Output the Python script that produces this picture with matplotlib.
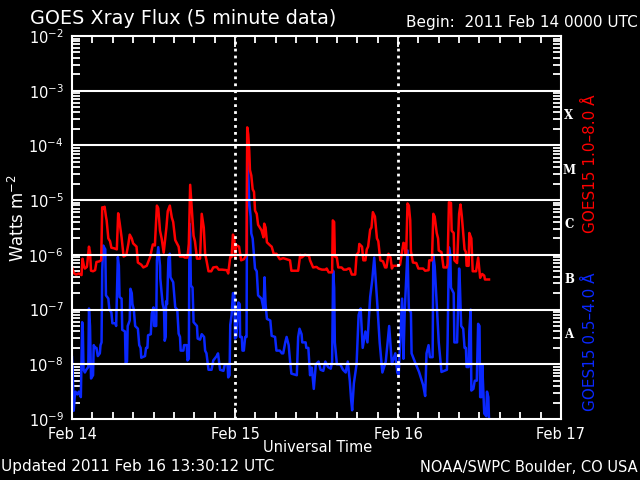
import matplotlib
matplotlib.use("Agg")
import matplotlib.pyplot as plt
import numpy as np
from matplotlib.ticker import FixedLocator, NullFormatter

# ---- data: hours since 2011 Feb 14 00:00 UTC, log10 flux (W m^-2) ----
long_t = [0.0, 0.25, 0.6, 1.0, 1.4, 1.55, 1.75, 1.9, 2.2, 2.5, 2.65, 2.8, 3.1, 3.4, 3.6, 4.0, 4.3,
          4.45, 4.6, 4.8, 5.0, 5.1, 5.35, 5.6, 5.8, 6.2, 6.6, 6.8, 7.0, 7.3, 7.6, 8.0, 8.3, 8.5,
          8.8, 9.0, 9.5, 9.7, 10.2, 10.5, 11.0, 11.5, 11.9, 12.2, 12.5, 12.7, 12.96, 13.2, 13.5,
          13.9, 14.1, 14.4, 14.7, 14.9, 15.2, 15.7, 15.9, 16.4, 16.6, 17.0, 17.2, 17.4, 17.6,
          17.9, 18.1, 18.4, 18.85, 19.1, 19.4, 19.6, 19.8, 20.1, 20.5, 20.8, 21.3, 21.6, 22.1,
          22.8, 23.0, 23.3, 23.5, 23.7, 23.9, 24.0, 24.2, 24.6, 24.9, 25.3, 25.5, 25.7, 25.8,
          25.95, 26.1, 26.2, 26.4, 26.6, 26.8, 26.95, 27.2, 27.4, 27.9, 28.2, 28.3, 28.5, 28.7,
          29.2, 29.4, 29.7, 30.1, 30.6, 31.1, 31.6, 32.1, 32.3, 33.3, 33.6, 33.8, 34.3, 34.9,
          35.05, 35.5, 36.0, 36.3, 36.8, 37.3, 37.5, 37.8, 38.3, 38.4, 38.6, 38.7, 39.0, 39.2,
          39.7, 40.0, 40.4, 40.7, 40.9, 41.2, 41.7, 41.9, 42.2, 42.3, 42.7, 42.9, 43.2, 43.4,
          43.6, 43.9, 44.1, 44.3, 44.6, 44.9, 45.1, 45.4, 45.8, 46.1, 46.3, 46.6, 46.9, 47.1,
          47.3, 48.0, 48.3, 48.8, 49.0, 49.1, 49.2, 49.4, 49.6, 49.8, 49.9, 50.2, 50.7, 51.0,
          51.7, 52.0, 52.5, 52.6, 53.0, 53.2, 53.4, 53.7, 53.9, 54.0, 54.4, 54.7, 55.2, 55.3,
          55.5, 55.8, 55.9, 56.2, 56.3, 56.7, 57.0, 57.2, 57.4, 57.6, 57.8, 58.0, 58.1, 58.4,
          58.5, 58.8, 59.0, 59.35, 59.5, 59.8, 60.1, 60.4, 60.7, 60.8, 61.4]
long_log = [-6.23, -6.33, -6.36, -6.34, -6.37, -6.07, -6.2, -6.25, -6.22, -5.85, -5.95, -6.29,
            -6.3, -6.28, -6.13, -6.12, -6.1, -5.13, -5.15, -5.12, -5.3, -5.37, -5.7, -5.75,
            -5.87, -5.88, -5.9, -5.24, -5.4, -5.68, -6.03, -6.0, -5.8, -5.63, -5.7, -5.79,
            -5.85, -6.14, -6.18, -6.23, -6.2, -6.04, -5.81, -5.83, -5.1, -5.15, -5.56, -5.7,
            -5.96, -5.5, -5.2, -5.1, -5.32, -5.4, -5.73, -5.85, -6.03, -6.03, -6.05, -6.05,
            -5.8, -4.72, -5.1, -5.65, -5.75, -6.07, -6.07, -5.25, -5.5, -5.98, -6.1, -6.3,
            -6.3, -6.23, -6.22, -6.27, -6.27, -6.28, -6.34, -6.04, -6.04, -5.63, -5.7, -6.04,
            -5.82, -5.85, -6.1, -6.08, -6.04, -6.0, -3.67, -3.8, -4.1, -4.45, -4.55, -4.8,
            -4.85, -5.19, -5.25, -5.45, -5.55, -5.68, -5.43, -5.5, -5.77, -5.83, -5.85, -5.98,
            -5.98, -6.08, -6.06, -6.08, -6.1, -6.29, -6.29, -6.0, -6.05, -6.0, -6.02, -6.1,
            -6.23, -6.22, -6.25, -6.27, -6.27, -6.25, -6.32, -6.32, -5.37, -5.4, -6.03, -6.05,
            -6.23, -6.23, -6.27, -6.27, -6.25, -6.25, -6.36, -6.36, -6.0, -5.95, -5.8, -5.85,
            -6.1, -6.1, -5.9, -5.85, -5.54, -5.5, -5.22, -5.3, -5.7, -5.75, -6.1, -6.12, -6.23,
            -6.23, -5.98, -6.05, -6.25, -6.2, -6.2, -6.18, -5.78, -5.8, -6.0, -6.0, -5.06,
            -5.1, -5.37, -5.93, -6.14, -6.15, -6.25, -6.25, -6.29, -6.28, -6.1, -6.1, -5.25,
            -5.3, -5.6, -5.7, -5.92, -5.95, -6.23, -6.23, -6.16, -5.04, -5.05, -5.56, -5.6,
            -6.1, -6.15, -5.25, -5.08, -5.3, -5.6, -5.9, -5.95, -6.2, -6.2, -5.6, -5.7, -6.3,
            -6.3, -6.3, -6.05, -6.42, -6.35, -6.38, -6.45, -6.45]

short_t = [0.0, 0.1, 0.25, 0.4, 0.5, 0.8, 1.0, 1.3, 1.5, 1.6, 1.7, 1.9, 2.1, 2.4, 2.5, 2.65, 2.8,
           3.1, 3.2, 3.4, 3.6, 3.8, 4.1, 4.2, 4.35, 4.45, 4.6, 4.9, 5.0, 5.35, 5.5, 5.8, 5.95,
           6.4, 6.5, 6.75, 6.9, 7.0, 7.3, 7.4, 7.8, 7.9, 8.1, 8.2, 8.5, 8.6, 8.8, 8.9, 9.1,
           9.3, 9.7, 9.9, 10.1, 10.2, 10.75, 10.9, 11.1, 11.2, 11.6, 11.75, 12.0, 12.1, 12.4,
           12.5, 12.7, 12.96, 13.0, 13.35, 13.55, 13.65, 13.8, 13.85, 14.0, 14.2, 14.4, 14.5,
           14.9, 15.2, 15.5, 15.7, 15.9, 16.0, 16.4, 16.5, 16.9, 17.0, 17.2, 17.3, 17.4, 17.5,
           17.75, 17.9, 18.4, 18.5, 18.85, 19.1, 19.45, 19.6, 19.8, 20.1, 20.55, 20.8, 21.3,
           21.5, 21.8, 22.3, 22.5, 22.9, 23.0, 23.2, 23.3, 23.5, 23.7, 23.9, 24.0, 24.2, 24.5,
           24.7, 24.75, 25.0, 25.1, 25.3, 25.5, 25.7, 25.8, 25.95, 26.1, 26.3, 26.4, 26.6,
           26.95, 27.2, 27.4, 27.9, 28.2, 28.35, 28.5, 28.7, 29.2, 29.4, 29.9, 30.1, 30.6,
           30.9, 31.1, 31.4, 31.6, 31.9, 32.1, 32.3, 33.1, 33.3, 33.5, 33.8, 33.9, 34.4, 34.5,
           34.8, 35.05, 35.3, 35.6, 35.9, 36.3, 36.6, 37.0, 37.3, 37.7, 38.1, 38.3, 38.45,
           38.6, 38.7, 39.0, 39.5, 39.9, 40.3, 40.6, 40.9, 41.1, 41.25, 41.5, 41.9, 42.2, 42.5,
           42.8, 43.2, 43.5, 43.9, 44.2, 44.5, 44.9, 45.3, 45.7, 46.2, 46.7, 47.1, 47.6, 47.9,
           48.1, 48.6, 48.8, 49.0, 49.4, 49.6, 49.9, 50.0, 50.5, 51.1, 51.7, 52.0, 52.2, 52.5,
           52.7, 53.1, 53.2, 53.4, 53.7, 54.0, 54.4, 55.2, 55.3, 55.5, 55.7, 55.8, 56.2, 56.3,
           56.7, 56.9, 57.0, 57.1, 57.3, 57.6, 57.8, 58.0, 58.1, 58.4, 58.5, 58.7, 58.8, 59.1,
           59.3, 59.6, 59.8, 60.0, 60.1, 60.3, 60.4, 60.7, 61.0, 61.1, 61.3, 61.4]
short_log = [-7.87, -8.1, -8.85, -8.6, -8.5, -8.55, -8.5, -8.6, -7.23, -7.4, -8.1, -8.15, -8.1,
             -8.05, -6.98, -7.3, -8.26, -8.2, -7.65, -7.7, -7.7, -7.85, -7.8, -7.65, -7.6,
             -6.29, -5.83, -5.9, -6.74, -6.8, -7.0, -7.05, -7.25, -7.25, -7.3, -6.04, -6.2,
             -6.77, -6.8, -7.37, -7.4, -7.98, -7.95, -7.3, -7.2, -6.62, -6.7, -6.9, -7.0, -7.3,
             -7.35, -7.65, -7.7, -7.88, -7.85, -7.7, -7.7, -7.47, -7.45, -7.07, -6.96, -7.3,
             -7.3, -6.1, -5.86, -6.2, -6.43, -6.9, -7.0, -7.57, -7.5, -6.85, -6.9, -6.07, -5.98,
             -6.41, -6.5, -6.96, -7.0, -7.44, -7.5, -7.75, -7.75, -7.65, -7.65, -7.93, -7.9,
             -5.43, -5.6, -6.56, -6.6, -7.23, -7.3, -7.53, -7.55, -7.45, -7.5, -7.75, -7.8,
             -8.1, -8.1, -7.93, -7.85, -7.8, -8.1, -8.12, -8.0, -8.0, -8.24, -8.2, -7.28, -7.1,
             -6.7, -6.7, -7.53, -7.5, -6.87, -6.9, -7.5, -7.5, -7.75, -7.75, -7.5, -7.5, -4.2,
             -4.5, -5.05, -5.3, -5.61, -5.7, -6.25, -6.3, -6.74, -6.8, -6.98, -6.41, -6.9,
             -7.17, -7.2, -7.48, -7.5, -7.75, -7.75, -7.8, -7.8, -7.6, -7.5, -7.65, -7.93,
             -8.17, -8.2, -7.5, -7.35, -7.45, -7.6, -7.6, -7.7, -7.7, -8.2, -8.06, -8.45, -8.0,
             -7.95, -8.1, -8.12, -7.95, -8.05, -8.08, -7.95, -6.29, -6.6, -7.6, -8.0, -8.0,
             -8.1, -8.15, -7.95, -8.3, -8.65, -8.84, -8.35, -8.0, -7.1, -6.98, -7.7, -7.4,
             -7.6, -6.77, -6.47, -6.05, -6.8, -7.6, -8.15, -7.95, -7.3, -8.0, -7.8, -8.15,
             -8.2, -6.8, -7.9, -7.0, -5.92, -7.0, -7.05, -7.8, -7.96, -8.14, -8.38, -8.58,
             -7.8, -7.65, -7.87, -7.87, -6.0, -6.2, -6.9, -7.6, -8.14, -8.1, -7.6, -5.86, -6.0,
             -6.6, -6.7, -7.6, -7.6, -6.74, -6.25, -6.5, -7.3, -7.35, -7.7, -7.7, -8.05, -8.05,
             -7.4, -7.0, -8.48, -8.45, -8.3, -8.3, -7.26, -7.3, -8.6, -8.6, -8.0, -8.9, -8.95,
             -8.5, -8.6, -9.0]

day_ticks = [0, 24, 48, 72]
day_labels = ["Feb 14", "Feb 15", "Feb 16", "Feb 17"]
decade_exps = [-9, -8, -7, -6, -5, -4, -3, -2]
grid_levels = [1e-3, 1e-4, 1e-5, 1e-6, 1e-7, 1e-8]
class_letters = ["X", "M", "C", "B", "A"]
class_levels = [10**-3.45, 10**-4.45, 10**-5.45, 10**-6.45, 10**-7.45]

RED = "#ff0000"
BLUE = "#0a28ff"

fig = plt.figure(figsize=(6.4, 4.8), dpi=100, facecolor="black")
ax = fig.add_axes([72/640, 1-419/480, (561-72)/640, (419-36)/480], facecolor="black")

ax.plot(short_t, 10**np.array(short_log), color=BLUE, lw=1.8, zorder=2)
ax.plot(long_t, 10**np.array(long_log), color=RED, lw=1.8, zorder=2)

ax.set_yscale("log")
ax.set_ylim(1e-9, 1e-2)
ax.set_xlim(0, 72)

for g in grid_levels:
    ax.axhline(g, color="white", lw=1.5, zorder=3)
for d in day_ticks[1:3]:
    ax.axvline(d, color="white", lw=2, ls=(0, (1, 1.5)), zorder=3)

for s in ax.spines.values():
    s.set_color("white")
    s.set_linewidth(1.5)

ax.xaxis.set_major_locator(FixedLocator(day_ticks))
ax.set_xticklabels(day_labels)
ax.xaxis.set_minor_locator(FixedLocator([h for h in range(3, 72, 3) if h % 24]))
major_y = [10.0**e for e in decade_exps]
ax.yaxis.set_major_locator(FixedLocator(major_y))
ax.set_yticklabels([r"$10^{%d}$" % e for e in decade_exps])
minor_y = [m * 10.0**e for e in decade_exps[:-1] for m in range(2, 10)]
ax.yaxis.set_minor_locator(FixedLocator(minor_y))
ax.yaxis.set_minor_formatter(NullFormatter())

ax.tick_params(which="both", direction="in", top=True, right=True, colors="white",
               labelcolor="white", width=1.3)
ax.tick_params(axis="x", which="major", length=8, labelsize=10.5, pad=6)
ax.tick_params(axis="x", which="minor", length=5)
ax.tick_params(axis="y", which="major", length=9, labelsize=10.5, pad=6)
ax.tick_params(axis="y", which="minor", length=6)

ytrans = ax.get_yaxis_transform()
for lab, lev in zip(class_letters, class_levels):
    ax.text((569-72)/489, lev, lab, transform=ytrans, color="white", fontsize=8.5,
            fontweight="bold", family="DejaVu Serif", ha="center", va="center", clip_on=False)

fig.text(30/640, 1-18/480, "GOES Xray Flux (5 minute data)", color="white", fontsize=13.8,
         ha="left", va="center")
fig.text(638/640, 1-22/480, "Begin:  2011 Feb 14 0000 UTC", color="white", fontsize=11,
         ha="right", va="center")
fig.text(18/640, 1-218/480, r"Watts m$^{-2}$", color="white", fontsize=12, rotation=90,
         ha="center", va="center")
fig.text(318/640, 1-448/480, "Universal Time", color="white", fontsize=10.5,
         ha="center", va="center")
fig.text(1/640, 1-467/480, "Updated 2011 Feb 16 13:30:12 UTC", color="white", fontsize=11,
         ha="left", va="center")
fig.text(638/640, 1-467/480, "NOAA/SWPC Boulder, CO USA", color="white", fontsize=10.5,
         ha="right", va="center")
fig.text(590/640, 1-164/480, "GOES15 1.0\u20138.0 \u00c5", color=RED, fontsize=11,
         rotation=90, ha="center", va="center")
fig.text(590/640, 1-342/480, "GOES15 0.5\u20134.0 \u00c5", color=BLUE, fontsize=11,
         rotation=90, ha="center", va="center")

fig.savefig("out.png", dpi=100, facecolor="black")
